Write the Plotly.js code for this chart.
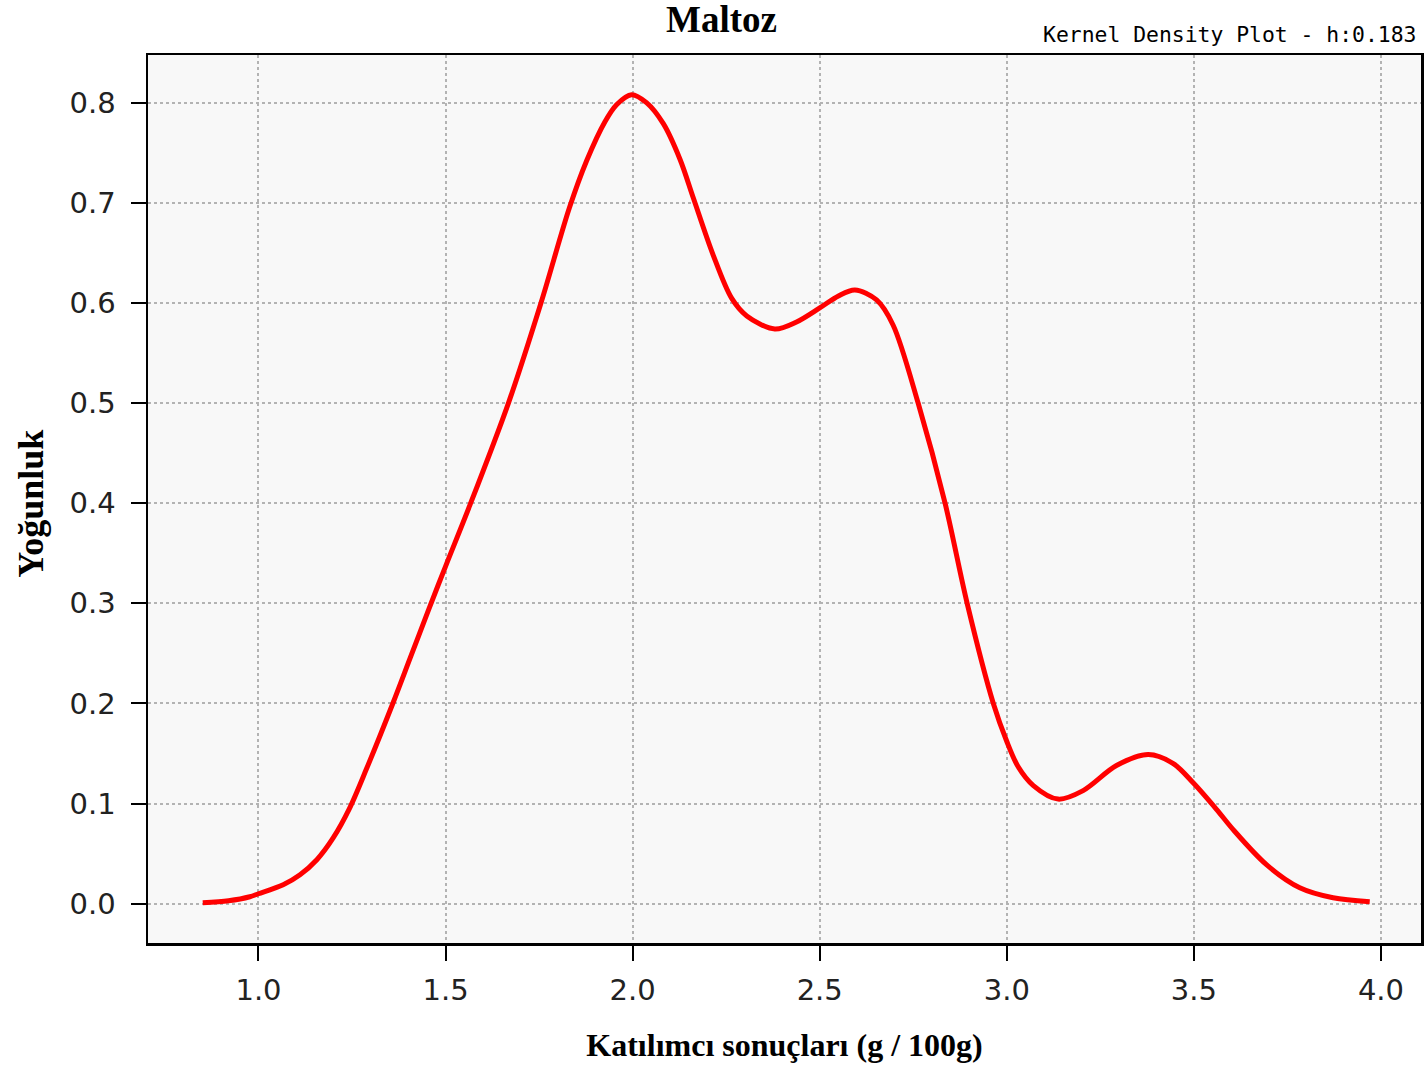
<!DOCTYPE html>
<html>
<head>
<meta charset="utf-8">
<script src="https://cdn.plot.ly/plotly-3.0.1.min.js"></script>
<style>html,body{margin:0;padding:0;background:#fff;}#chart{width:1426px;height:1067px;}</style>
</head>
<body>
<div id="chart"></div>
<script>
// Data
const densityX = [0.851, 0.92, 0.977, 1.0, 1.066, 1.111, 1.156, 1.2, 1.243, 1.289, 1.359, 1.405, 1.454, 1.5, 1.565, 1.668, 1.755, 1.831, 1.877, 1.926, 1.957, 1.997, 2.037, 2.082, 2.127, 2.162, 2.215, 2.264, 2.305, 2.38, 2.438, 2.5, 2.55, 2.594, 2.652, 2.696, 2.763, 2.835, 2.894, 2.964, 3.0, 3.03, 3.071, 3.137, 3.204, 3.293, 3.378, 3.445, 3.5, 3.561, 3.605, 3.694, 3.783, 3.872, 3.97];
const densityY = [0.001, 0.003, 0.007, 0.010, 0.019, 0.029, 0.044, 0.066, 0.095, 0.135, 0.2, 0.245, 0.293, 0.337, 0.398, 0.5, 0.6, 0.695, 0.742, 0.781, 0.798, 0.808, 0.8, 0.779, 0.743, 0.705, 0.648, 0.605, 0.587, 0.574, 0.581, 0.595, 0.607, 0.613, 0.603, 0.578, 0.5, 0.4, 0.3, 0.2, 0.162, 0.137, 0.118, 0.1045, 0.113, 0.138, 0.149, 0.14, 0.12, 0.094, 0.074, 0.039, 0.016, 0.006, 0.002];
const xTicks = [1.0, 1.5, 2.0, 2.5, 3.0, 3.5, 4.0];
const yTicks = [0.0, 0.1, 0.2, 0.3, 0.4, 0.5, 0.6, 0.7, 0.8];
const chartTitle = "Maltoz";
const subTitle = "Kernel Density Plot - h:0.183";
const xTitle = "Katılımcı sonuçları (g / 100g)";
const yTitle = "Yoğunluk";

const trace = {
  x: densityX, y: densityY, type: 'scatter', mode: 'lines',
  line: {color: '#ff0000', width: 5, shape: 'spline', smoothing: 0.9},
  hoverinfo: 'x+y', showlegend: false
};

const axisCommon = {
  showline: true, linecolor: '#000', linewidth: 2.5, mirror: true,
  ticks: 'outside', ticklen: 15, tickwidth: 2, tickcolor: '#000',
  showgrid: true, gridcolor: '#b3b3b3', gridwidth: 2, griddash: 'dot',
  zeroline: false,
  tickfont: {family: 'DejaVu Sans', size: 29, color: '#222'}
};

const layout = {
  width: 1426, height: 1067,
  margin: {l: 148, r: 5, t: 55, b: 124},
  paper_bgcolor: '#ffffff', plot_bgcolor: '#f8f8f8',
  title: {text: '<b>' + chartTitle + '</b>', font: {family: 'Liberation Serif', size: 37, color: '#000'},
          xref: 'container', x: 0.506, xanchor: 'center', yref: 'container', y: 1 - 19/1067, yanchor: 'middle'},
  xaxis: Object.assign({}, axisCommon, {
    range: [0.7047, 4.107], tickvals: xTicks, ticktext: xTicks.map(v => v.toFixed(1)),
    ticklabelstandoff: 5,
    title: {text: '<b>' + xTitle + '</b>', font: {family: 'Liberation Serif', size: 32, color: '#000'}, standoff: 28}
  }),
  yaxis: Object.assign({}, axisCommon, {
    range: [-0.0392, 0.8476], tickvals: yTicks, ticktext: yTicks.map(v => v.toFixed(1)),
    ticklabelstandoff: 9
  }),
  annotations: [{
    text: subTitle, xref: 'paper', yref: 'paper', x: 0.998, y: 1.0236,
    xanchor: 'right', yanchor: 'middle', showarrow: false,
    font: {family: 'DejaVu Sans Mono', size: 21.4, color: '#000'}
  }, {
    text: '<b>' + yTitle + '</b>', xref: 'paper', yref: 'paper', x: -0.0915, y: 0.494,
    xanchor: 'center', yanchor: 'middle', textangle: -90, showarrow: false,
    font: {family: 'Liberation Serif', size: 36, color: '#000'}
  }]
};

Plotly.newPlot('chart', [trace], layout, {displayModeBar: false, staticPlot: true});
</script>
</body>
</html>
